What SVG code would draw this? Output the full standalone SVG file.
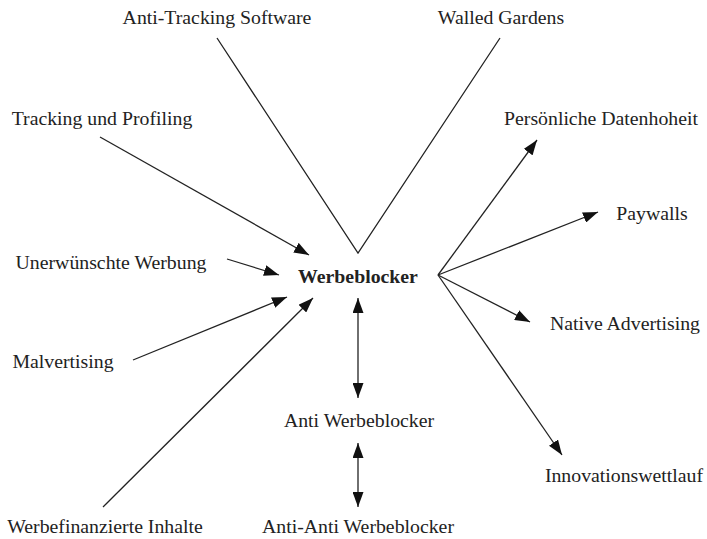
<svg xmlns="http://www.w3.org/2000/svg" width="707" height="539" viewBox="0 0 707 539">
<style>
text{font-family:"Liberation Serif","Times New Roman",serif;font-size:19.8px;fill:#222;text-anchor:middle}
.b{font-weight:bold}
.c{stroke:#222;stroke-width:1.3;fill:none}
.a{marker-end:url(#ah)}
.d{marker-start:url(#ah);marker-end:url(#ah)}
</style>
<defs>
<marker id="ah" markerUnits="userSpaceOnUse" markerWidth="15" markerHeight="11" refX="15" refY="5.5" orient="auto-start-reverse"><path d="M0,0 L15,5.5 L0,11 z" fill="#111"/></marker>
</defs>
<rect width="707" height="539" fill="#fff"/>
<g id="connectors">
<line class="c a" x1="100" y1="137" x2="309" y2="255"/>
<line class="c a" x1="227" y1="259" x2="279" y2="275"/>
<line class="c a" x1="133" y1="360" x2="287" y2="297"/>
<line class="c a" x1="103" y1="507" x2="313" y2="298"/>
<polyline class="c" points="217,38 358,253 500,38"/>
<line class="c a" x1="438" y1="275" x2="537" y2="140"/>
<line class="c a" x1="438" y1="275" x2="598" y2="212"/>
<line class="c a" x1="438" y1="275" x2="530" y2="322"/>
<line class="c a" x1="438" y1="275" x2="562" y2="455"/>
<line class="c d" x1="358" y1="298" x2="358" y2="398"/>
<line class="c d" x1="358" y1="443" x2="358" y2="507"/>
</g>
<g id="werbeblocker"><text class="b" x="358" y="283">Werbeblocker</text></g>
<g id="anti-tracking"><text x="217" y="24">Anti-Tracking Software</text></g>
<g id="walled-gardens"><text x="501" y="24">Walled Gardens</text></g>
<g id="tracking"><text x="102" y="125">Tracking und Profiling</text></g>
<g id="unerwuenscht"><text x="111" y="269">Unerwünschte Werbung</text></g>
<g id="malvertising"><text x="63" y="368">Malvertising</text></g>
<g id="werbefinanziert"><text x="105" y="533">Werbefinanzierte Inhalte</text></g>
<g id="datenhoheit"><text x="601" y="125">Persönliche Datenhoheit</text></g>
<g id="paywalls"><text x="652" y="220">Paywalls</text></g>
<g id="native"><text x="625" y="330">Native Advertising</text></g>
<g id="innovation"><text x="624" y="482">Innovationswettlauf</text></g>
<g id="anti-werbeblocker"><text x="359" y="427">Anti Werbeblocker</text></g>
<g id="anti-anti"><text x="358" y="533">Anti-Anti Werbeblocker</text></g>
</svg>
